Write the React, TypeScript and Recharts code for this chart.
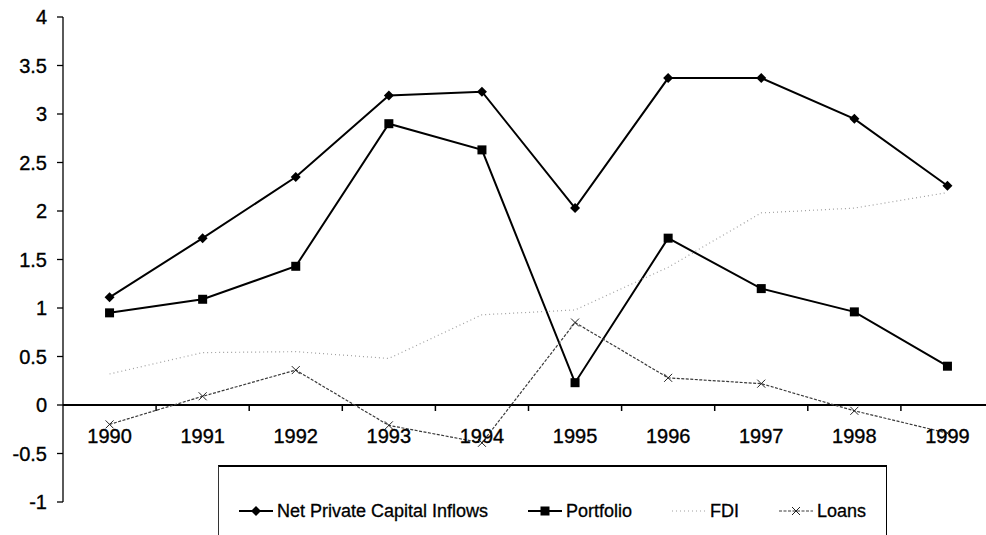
import React from 'react';
import { LineChart, Line, XAxis, YAxis, ReferenceLine, Legend } from 'recharts';

// Values (billions, by year)
const years = ['1990', '1991', '1992', '1993', '1994', '1995', '1996', '1997', '1998', '1999'];
const netInflows = [1.11, 1.72, 2.35, 3.19, 3.23, 2.03, 3.37, 3.37, 2.95, 2.26];
const portfolio = [0.95, 1.09, 1.43, 2.9, 2.63, 0.23, 1.72, 1.2, 0.96, 0.4];
const fdi = [0.32, 0.54, 0.55, 0.48, 0.93, 0.98, 1.42, 1.98, 2.03, 2.19];
const loans = [-0.2, 0.09, 0.36, -0.21, -0.39, 0.85, 0.28, 0.22, -0.06, -0.29];
const yTicks = [-1, -0.5, 0, 0.5, 1, 1.5, 2, 2.5, 3, 3.5, 4];

const data = years.map((year, i) => ({
  year,
  net: netInflows[i],
  portfolio: portfolio[i],
  fdi: fdi[i],
  loans: loans[i],
}));

const WIDTH = 986;
const HEIGHT = 535;
const MARGIN = { top: 17, right: -8, left: 0, bottom: 0 };
const Y_AXIS_W = 63;
const X_AXIS_H = 33;
const Y_MIN = -1;
const Y_MAX = 4;
const PLOT_W = WIDTH - MARGIN.left - MARGIN.right - Y_AXIS_W;
const PLOT_H = HEIGHT - MARGIN.top - MARGIN.bottom - X_AXIS_H;
const PX_PER_UNIT = PLOT_H / (Y_MAX - Y_MIN);
const BAND = PLOT_W / years.length;
const FONT = '"Liberation Sans", Arial, Helvetica, sans-serif';

type Marker = 'diamond' | 'square' | 'cross' | 'none';

const SERIES: Array<{ key: string; name: string; stroke: string; width: number; dash?: string; marker: Marker }> = [
  { key: 'net', name: 'Net Private Capital Inflows', stroke: '#000', width: 2, marker: 'diamond' },
  { key: 'portfolio', name: 'Portfolio', stroke: '#000', width: 2, marker: 'square' },
  { key: 'fdi', name: 'FDI', stroke: '#a0a0a0', width: 1.2, dash: '1 3', marker: 'none' },
  { key: 'loans', name: 'Loans', stroke: '#3a3a3a', width: 1.2, dash: '3 1.5', marker: 'cross' },
];

function drawMarker(kind: Marker, cx: number, cy: number, key?: string | number) {
  if (kind === 'diamond') {
    const r = 5;
    return <path key={key} d={`M${cx} ${cy - r}L${cx + r} ${cy}L${cx} ${cy + r}L${cx - r} ${cy}Z`} fill="#000" />;
  }
  if (kind === 'square') {
    return <rect key={key} x={cx - 4.5} y={cy - 4.5} width={9} height={9} fill="#000" />;
  }
  if (kind === 'cross') {
    const r = 4;
    return (
      <g key={key} stroke="#222" strokeWidth={1}>
        <line x1={cx - r} y1={cy - r} x2={cx + r} y2={cy + r} />
        <line x1={cx - r} y1={cy + r} x2={cx + r} y2={cy - r} />
      </g>
    );
  }
  return <g key={key} />;
}

function YearTick(props: any) {
  const { x, y, payload } = props;
  // y is the bottom of the plot; the category axis sits on the zero line
  const zeroY = y - (0 - Y_MIN) * PX_PER_UNIT;
  return (
    <g>
      <line x1={x + BAND / 2} x2={x + BAND / 2} y1={zeroY} y2={zeroY + 6} stroke="#000" strokeWidth={1.5} />
      <text
        x={x}
        y={zeroY + 31}
        textAnchor="middle"
        dominantBaseline="central"
        fontFamily={FONT}
        fontSize={20}
        fill="#000"
        stroke="#000"
        strokeWidth={0.35}
      >
        {payload.value}
      </text>
    </g>
  );
}

function LegendBox() {
  return (
    <div
      style={{
        boxSizing: 'border-box',
        width: '100%',
        height: '100%',
        borderTop: '2px solid #000',
        borderLeft: '1px solid #333',
        borderRight: '1.5px solid #000',
        background: '#fff',
        display: 'flex',
        justifyContent: 'center',
        alignItems: 'flex-start',
        paddingTop: 34,
        gap: 40,
        fontFamily: FONT,
        fontSize: 18,
        color: '#000',
        WebkitTextStroke: '0.3px #000',
      }}
    >
      {SERIES.map((s) => (
        <div key={s.key} style={{ display: 'flex', alignItems: 'center', height: 20, whiteSpace: 'nowrap' }}>
          <svg width={34} height={20} style={{ marginRight: 4 }}>
            <line
              x1={0}
              x2={34}
              y1={10}
              y2={10}
              stroke={s.stroke}
              strokeWidth={s.width}
              strokeDasharray={s.dash}
            />
            {drawMarker(s.marker, 17, 10)}
          </svg>
          <span>{s.name}</span>
        </div>
      ))}
    </div>
  );
}

export default function App() {
  return (
    <div
      style={{
        position: 'absolute',
        left: 0,
        top: 0,
        width: WIDTH,
        height: HEIGHT,
        overflow: 'hidden',
        background: '#fff',
      }}
    >
      <LineChart width={WIDTH} height={HEIGHT} data={data} margin={MARGIN}>
        <XAxis
          dataKey="year"
          height={X_AXIS_H}
          axisLine={false}
          tickLine={false}
          tickSize={0}
          tickMargin={0}
          interval={0}
          padding={{ left: BAND / 2, right: BAND / 2 }}
          tick={<YearTick />}
        />
        <YAxis
          width={Y_AXIS_W}
          domain={[Y_MIN, Y_MAX]}
          ticks={yTicks}
          interval={0}
          axisLine={{ stroke: '#000', strokeWidth: 1.3 }}
          tickLine={{ stroke: '#000', strokeWidth: 1.3 }}
          tickSize={6}
          tickMargin={10}
          tick={{ fill: '#000', fontSize: 20, fontFamily: FONT, stroke: '#000', strokeWidth: 0.35 }}
        />
        <ReferenceLine y={0} stroke="#000" strokeWidth={2} />
        {SERIES.map((s) => (
          <Line
            key={s.key}
            type="linear"
            dataKey={s.key}
            name={s.name}
            stroke={s.stroke}
            strokeWidth={s.width}
            strokeDasharray={s.dash}
            dot={
              s.marker === 'none'
                ? false
                : (p: any) => drawMarker(s.marker, p.cx, p.cy, `${s.key}-${p.index}`)
            }
            activeDot={false}
            isAnimationActive={false}
          />
        ))}
        <Legend
          layout="horizontal"
          verticalAlign="middle"
          content={() => <LegendBox />}
          wrapperStyle={{ left: 218, top: 465, width: 669, height: 90, bottom: 'auto', right: 'auto' }}
        />
      </LineChart>
    </div>
  );
}
